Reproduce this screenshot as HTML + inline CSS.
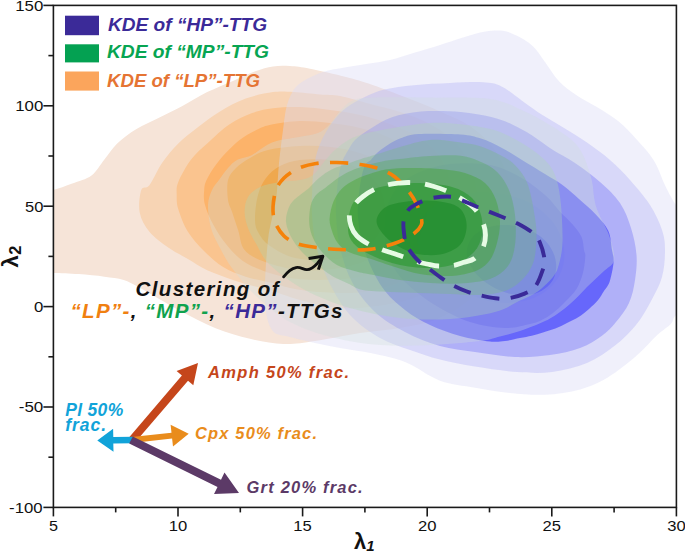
<!DOCTYPE html>
<html><head><meta charset="utf-8"><style>
html,body{margin:0;padding:0;background:#fff;width:685px;height:551px;overflow:hidden}
svg{display:block;font-family:"Liberation Sans",sans-serif}
</style></head><body>
<svg width="685" height="551" viewBox="0 0 685 551" font-family="Liberation Sans, sans-serif">
<defs><clipPath id="plotclip"><rect x="53.4" y="5.4" width="623.0" height="502.0"/></clipPath></defs>
<g clip-path="url(#plotclip)">
<g>
<path d="M40.0,190.0 C42.2,176.2 47.6,191.2 53.0,190.1 C58.4,189.0 65.9,186.0 72.3,183.6 C78.7,181.2 86.2,179.6 91.5,175.6 C96.8,171.6 100.1,164.9 104.4,159.6 C108.7,154.2 111.9,148.6 117.2,143.5 C122.5,138.4 129.5,133.3 136.5,129.0 C143.5,124.7 151.5,121.5 159.0,117.8 C166.5,114.1 173.5,110.9 181.5,106.6 C189.5,102.3 198.6,96.4 207.2,92.1 C215.8,87.8 224.9,84.4 232.9,80.9 C240.9,77.4 248.6,73.6 255.3,71.2 C262.0,68.8 267.2,67.3 273.0,66.4 C278.8,65.5 283.8,65.6 290.0,66.0 C296.2,66.4 300.7,66.9 310.0,68.7 C319.3,70.5 335.6,74.3 346.0,77.0 C356.4,79.7 361.3,81.0 372.6,84.9 C383.9,88.8 402.6,96.1 413.8,100.5 C425.0,104.9 430.6,107.2 440.0,111.5 C449.4,115.8 460.8,119.6 470.0,126.0 C479.2,132.4 488.3,140.2 495.0,150.0 C501.7,159.8 507.2,172.5 510.0,185.0 C512.8,197.5 513.7,211.7 512.0,225.0 C510.3,238.3 506.2,253.3 500.0,265.0 C493.8,276.7 485.0,286.2 475.0,295.0 C465.0,303.8 452.5,312.5 440.0,318.0 C427.5,323.5 413.3,325.5 400.0,328.0 C386.7,330.5 374.2,330.8 360.0,333.0 C345.8,335.2 327.7,339.2 315.0,341.0 C302.3,342.8 294.4,344.4 283.6,344.0 C272.8,343.6 261.3,341.4 250.0,338.8 C238.7,336.2 227.5,333.1 215.6,328.3 C203.7,323.5 191.1,316.6 178.8,310.0 C166.5,303.4 151.2,293.9 142.0,288.9 C132.8,283.9 130.0,281.9 123.7,279.9 C117.4,277.9 111.9,277.7 104.4,276.7 C96.9,275.7 87.3,274.7 78.7,274.1 C70.1,273.5 59.5,273.1 53.0,272.9 C46.5,272.7 42.2,286.8 40.0,273.0 C37.8,259.2 37.8,203.8 40.0,190.0Z" fill="#f6e4d8" fill-opacity="1.0"/>
<path d="M139.7,212.5 C138.3,205.5 139.7,194.5 141.3,190.0 C142.9,185.5 145.9,189.8 149.4,185.3 C152.9,180.8 157.4,169.8 162.2,162.8 C167.0,155.8 172.4,149.4 178.3,143.5 C184.2,137.6 190.6,132.8 197.5,127.4 C204.4,122.1 212.0,116.2 220.0,111.4 C228.0,106.6 236.9,101.7 245.7,98.5 C254.5,95.3 265.1,93.2 273.0,92.1 C280.9,91.0 285.6,91.6 293.4,92.0 C301.2,92.4 312.2,93.8 320.0,94.5 C327.8,95.2 331.7,94.4 340.0,96.0 C348.3,97.6 360.0,101.3 370.0,104.0 C380.0,106.7 390.0,108.7 400.0,112.0 C410.0,115.3 420.8,119.0 430.0,124.0 C439.2,129.0 448.0,134.3 455.0,142.0 C462.0,149.7 468.2,159.5 472.0,170.0 C475.8,180.5 478.0,193.3 478.0,205.0 C478.0,216.7 475.8,229.2 472.0,240.0 C468.2,250.8 462.8,261.2 455.0,270.0 C447.2,278.8 436.7,287.2 425.0,293.0 C413.3,298.8 399.2,302.5 385.0,305.0 C370.8,307.5 354.2,308.8 340.0,308.0 C325.8,307.2 311.7,303.0 300.0,300.0 C288.3,297.0 277.4,292.3 270.0,290.0 C262.6,287.7 261.5,288.1 255.3,286.4 C249.1,284.7 240.9,282.6 232.9,279.9 C224.9,277.2 214.7,273.8 207.2,270.3 C199.7,266.8 194.3,262.8 187.9,259.0 C181.5,255.2 175.0,252.3 168.6,247.8 C162.2,243.3 154.2,237.7 149.4,231.8 C144.6,225.9 141.0,219.5 139.7,212.5Z" fill="#f7d4b4" fill-opacity="1.0"/>
<path d="M178.3,182.0 C180.7,176.1 186.3,166.0 191.1,159.6 C195.9,153.2 200.8,149.4 207.2,143.5 C213.6,137.6 222.1,129.3 229.6,124.2 C237.1,119.1 244.9,115.7 252.1,113.0 C259.3,110.3 265.0,109.2 273.0,108.2 C281.0,107.2 290.5,106.7 300.0,107.0 C309.5,107.3 320.0,108.7 330.0,110.0 C340.0,111.3 350.0,112.7 360.0,115.0 C370.0,117.3 380.0,120.2 390.0,124.0 C400.0,127.8 411.3,132.0 420.0,138.0 C428.7,144.0 436.7,150.5 442.0,160.0 C447.3,169.5 451.0,183.3 452.0,195.0 C453.0,206.7 451.3,219.2 448.0,230.0 C444.7,240.8 439.2,251.7 432.0,260.0 C424.8,268.3 416.2,274.7 405.0,280.0 C393.8,285.3 379.2,290.0 365.0,292.0 C350.8,294.0 332.5,292.7 320.0,292.0 C307.5,291.3 297.8,289.5 290.0,288.0 C282.2,286.5 280.4,285.0 273.0,283.1 C265.6,281.2 254.0,279.4 245.7,276.7 C237.4,274.0 230.1,271.4 223.2,267.1 C216.2,262.8 209.9,256.9 204.0,251.0 C198.1,245.1 192.2,238.8 187.9,231.8 C183.6,224.9 180.2,215.4 178.3,209.3 C176.4,203.2 176.7,199.6 176.7,195.0 C176.7,190.4 175.9,187.9 178.3,182.0Z" fill="#fac48f" fill-opacity="1.0"/>
<path d="M204.2,190.0 C204.6,185.6 204.6,183.9 207.2,178.8 C209.8,173.7 214.7,166.0 220.0,159.6 C225.3,153.2 232.9,145.4 239.3,140.3 C245.7,135.2 252.9,131.7 258.5,129.0 C264.1,126.3 266.1,125.5 273.0,124.2 C279.9,122.9 290.5,121.2 300.0,121.0 C309.5,120.8 320.0,121.8 330.0,123.0 C340.0,124.2 350.0,125.5 360.0,128.0 C370.0,130.5 381.3,133.5 390.0,138.0 C398.7,142.5 406.2,148.0 412.0,155.0 C417.8,162.0 422.3,170.8 425.0,180.0 C427.7,189.2 429.2,200.0 428.0,210.0 C426.8,220.0 423.0,231.3 418.0,240.0 C413.0,248.7 406.8,256.0 398.0,262.0 C389.2,268.0 378.0,273.0 365.0,276.0 C352.0,279.0 332.5,279.7 320.0,280.0 C307.5,280.3 297.8,279.0 290.0,278.0 C282.2,277.0 277.7,275.4 273.0,274.1 C268.3,272.8 266.9,272.5 261.8,270.3 C256.7,268.1 248.4,265.0 242.5,260.7 C236.6,256.4 231.2,250.5 226.4,244.6 C221.6,238.7 217.2,231.9 213.6,225.3 C210.0,218.7 206.6,210.9 205.0,205.0 C203.4,199.1 203.8,194.4 204.2,190.0Z" fill="#fcb36a" fill-opacity="1.0"/>
<path d="M228.0,200.0 C227.3,194.7 226.7,185.3 228.0,180.0 C229.3,174.7 232.3,171.7 236.0,168.0 C239.7,164.3 244.7,161.0 250.0,158.0 C255.3,155.0 259.7,152.0 268.0,150.0 C276.3,148.0 289.7,146.5 300.0,146.0 C310.3,145.5 320.0,145.8 330.0,147.0 C340.0,148.2 350.8,149.8 360.0,153.0 C369.2,156.2 378.3,160.2 385.0,166.0 C391.7,171.8 397.0,179.8 400.0,188.0 C403.0,196.2 404.2,206.3 403.0,215.0 C401.8,223.7 398.2,232.8 393.0,240.0 C387.8,247.2 380.8,253.3 372.0,258.0 C363.2,262.7 352.0,266.0 340.0,268.0 C328.0,270.0 312.5,271.0 300.0,270.0 C287.5,269.0 274.2,265.3 265.0,262.0 C255.8,258.7 249.0,255.2 244.6,250.0 C240.2,244.8 240.4,237.2 238.3,230.8 C236.2,224.4 233.7,216.9 232.0,211.8 C230.3,206.7 228.7,205.3 228.0,200.0Z" fill="#ffa33c" fill-opacity="1.0"/>
<path d="M255.0,218.0 C255.0,211.8 256.2,201.7 258.0,195.0 C259.8,188.3 262.3,182.8 266.0,178.0 C269.7,173.2 274.3,169.0 280.0,166.0 C285.7,163.0 291.7,161.0 300.0,160.0 C308.3,159.0 320.3,158.7 330.0,160.0 C339.7,161.3 350.0,163.8 358.0,168.0 C366.0,172.2 373.5,178.0 378.0,185.0 C382.5,192.0 385.0,201.7 385.0,210.0 C385.0,218.3 382.2,228.0 378.0,235.0 C373.8,242.0 368.0,247.8 360.0,252.0 C352.0,256.2 340.8,259.0 330.0,260.0 C319.2,261.0 305.0,260.3 295.0,258.0 C285.0,255.7 276.2,250.3 270.0,246.0 C263.8,241.7 260.5,236.7 258.0,232.0 C255.5,227.3 255.0,224.2 255.0,218.0Z" fill="#ff8d07" fill-opacity="1.0"/>
</g>
<g>
<path d="M265.0,300.0 C264.3,285.0 266.2,256.7 268.0,240.0 C269.8,223.3 274.2,212.8 276.0,200.0 C277.8,187.2 277.8,174.7 279.0,163.0 C280.2,151.3 281.7,139.7 283.0,130.0 C284.3,120.3 285.0,112.0 287.0,105.0 C289.0,98.0 291.7,92.3 295.0,88.0 C298.3,83.7 302.1,81.8 307.0,79.0 C311.9,76.2 318.4,73.4 324.6,71.5 C330.9,69.6 337.1,68.8 344.5,67.5 C351.9,66.2 361.7,64.8 369.3,63.5 C376.9,62.2 382.4,61.8 390.0,60.0 C397.6,58.2 406.7,55.0 415.0,52.5 C423.3,50.0 432.0,47.5 440.0,45.0 C448.0,42.5 455.4,39.8 463.0,37.5 C470.6,35.2 478.8,32.6 485.5,31.5 C492.2,30.4 497.8,30.1 503.0,30.8 C508.2,31.5 512.0,33.2 517.0,35.8 C522.0,38.4 528.2,41.9 532.9,46.3 C537.6,50.7 540.6,56.2 545.0,62.0 C549.4,67.8 553.7,75.8 559.0,81.3 C564.3,86.8 570.1,90.9 576.6,95.3 C583.1,99.7 590.7,103.2 597.7,107.6 C604.7,112.0 612.3,116.3 618.7,121.6 C625.1,126.8 630.4,132.7 636.2,139.1 C642.0,145.5 648.8,152.4 653.7,160.2 C658.6,168.0 661.7,178.5 665.4,186.0 C669.1,193.5 671.1,197.7 676.0,205.0 C680.9,212.3 691.8,214.2 695.0,230.0 C698.2,245.8 698.2,285.8 695.0,300.0 C691.8,314.2 680.0,311.0 676.0,315.0 C672.0,319.0 673.9,320.6 670.8,324.0 C667.7,327.4 663.0,329.8 657.2,335.1 C651.4,340.5 644.4,349.1 636.2,356.1 C628.0,363.1 617.5,371.6 608.2,377.2 C598.9,382.8 590.7,386.5 580.2,389.4 C569.7,392.3 556.8,394.1 545.1,394.7 C533.4,395.3 521.7,394.2 510.0,393.0 C498.3,391.8 486.7,389.8 475.0,387.7 C463.3,385.6 451.7,385.0 440.0,380.7 C428.3,376.4 417.1,366.7 405.0,362.0 C392.9,357.3 378.2,354.9 367.6,352.6 C357.0,350.3 350.1,349.8 341.3,348.2 C332.5,346.6 323.6,344.9 315.0,343.0 C306.4,341.1 297.2,339.2 290.0,337.0 C282.8,334.8 276.2,336.2 272.0,330.0 C267.8,323.8 265.7,315.0 265.0,300.0Z" fill="#dadaf6" fill-opacity="0.4112507811868249"/>
<path d="M312.2,190.0 C312.4,182.8 312.6,178.1 313.4,171.7 C314.2,165.3 315.3,158.0 317.2,151.8 C319.1,145.6 321.7,139.9 324.6,134.5 C327.5,129.1 330.8,124.1 334.5,119.6 C338.2,115.0 341.9,110.9 346.9,107.2 C351.9,103.5 358.0,100.1 364.3,97.2 C370.6,94.3 376.4,91.6 384.6,89.6 C392.9,87.6 402.9,86.3 413.8,85.2 C424.7,84.1 438.5,83.5 450.0,83.0 C461.5,82.5 474.4,81.7 483.0,82.3 C491.6,82.9 495.0,83.3 501.5,86.4 C508.0,89.5 515.2,95.9 522.0,100.7 C528.8,105.5 535.6,110.6 542.4,115.0 C549.2,119.4 555.4,122.6 562.8,127.2 C570.2,131.8 579.1,137.1 587.0,142.6 C594.9,148.1 602.8,153.8 610.0,160.0 C617.2,166.2 623.3,172.5 630.0,180.0 C636.7,187.5 644.7,196.7 650.0,205.0 C655.3,213.3 659.5,222.5 662.0,230.0 C664.5,237.5 665.0,242.2 665.0,250.0 C665.0,257.8 664.5,268.2 662.0,277.0 C659.5,285.8 654.3,295.0 650.0,303.0 C645.7,311.0 641.8,317.9 636.0,325.0 C630.2,332.1 623.2,339.3 615.0,345.6 C606.8,351.9 597.5,358.6 587.0,363.0 C576.5,367.4 563.7,370.5 552.0,372.0 C540.3,373.5 529.8,372.9 517.0,372.0 C504.2,371.1 487.8,368.7 475.0,366.6 C462.2,364.5 450.8,362.4 440.0,359.6 C429.2,356.8 420.0,353.6 410.0,350.0 C400.0,346.4 390.0,343.8 380.0,338.0 C370.0,332.2 358.7,324.7 350.0,315.0 C341.3,305.3 333.7,291.7 328.0,280.0 C322.3,268.3 318.7,255.8 316.0,245.0 C313.3,234.2 312.6,224.2 312.0,215.0 C311.4,205.8 312.0,197.2 312.2,190.0Z" fill="#b6b7f5" fill-opacity="0.4112507811868249"/>
<path d="M337.0,190.0 C337.6,182.8 338.5,176.7 339.5,171.7 C340.5,166.7 341.4,163.5 342.8,160.0 C344.2,156.5 346.0,153.9 348.0,150.6 C350.0,147.3 351.3,143.6 355.0,140.0 C358.7,136.4 363.9,132.8 370.0,129.0 C376.1,125.2 383.4,120.2 391.9,117.3 C400.4,114.4 409.5,112.4 421.0,111.5 C432.5,110.6 449.0,111.0 460.7,111.9 C472.4,112.8 482.8,115.0 491.3,117.0 C499.8,119.0 504.9,121.1 511.7,124.2 C518.5,127.3 525.4,131.2 532.2,135.4 C539.0,139.7 545.5,145.1 552.6,149.7 C559.7,154.3 567.1,157.6 575.0,163.0 C582.9,168.4 592.5,175.3 600.0,182.0 C607.5,188.7 614.8,195.3 620.0,203.0 C625.2,210.7 628.2,219.3 631.0,228.0 C633.8,236.7 635.8,246.3 636.5,255.0 C637.2,263.7 636.2,272.0 635.0,280.0 C633.8,288.0 632.2,296.0 629.0,303.0 C625.8,310.0 620.6,316.5 616.0,322.0 C611.4,327.5 607.6,331.7 601.6,336.0 C595.6,340.3 588.6,344.8 580.0,348.0 C571.4,351.2 560.8,353.5 550.0,355.0 C539.2,356.5 527.5,357.5 515.0,357.0 C502.5,356.5 487.5,353.8 475.0,352.0 C462.5,350.2 451.7,349.3 440.0,346.0 C428.3,342.7 415.8,337.7 405.0,332.0 C394.2,326.3 383.8,320.3 375.0,312.0 C366.2,303.7 357.8,292.7 352.0,282.0 C346.2,271.3 342.7,259.2 340.0,248.0 C337.3,236.8 336.5,224.7 336.0,215.0 C335.5,205.3 336.4,197.2 337.0,190.0Z" fill="#7776f8" fill-opacity="0.4112507811868249"/>
<path d="M359.4,190.0 C360.4,181.4 362.4,171.7 364.3,166.7 C366.2,161.7 368.6,162.4 370.8,160.0 C373.1,157.6 374.6,155.0 377.8,152.3 C381.0,149.6 386.2,145.9 390.0,143.6 C393.8,141.3 395.9,139.9 400.6,138.3 C405.3,136.7 408.1,134.7 418.1,134.0 C428.1,133.3 450.2,133.7 460.7,134.4 C471.2,135.2 474.2,136.3 481.0,138.5 C487.8,140.7 494.7,144.1 501.5,147.7 C508.3,151.3 514.8,155.6 522.0,160.0 C529.2,164.4 538.2,169.8 545.0,174.0 C551.8,178.2 556.8,180.8 562.5,185.0 C568.2,189.2 573.5,194.1 579.0,199.0 C584.5,203.9 590.7,209.0 595.6,214.3 C600.5,219.6 605.6,224.9 608.3,230.8 C611.0,236.8 611.1,244.8 612.0,250.0 C612.9,255.2 614.0,256.8 613.6,262.0 C613.2,267.2 611.3,276.6 609.7,281.4 C608.1,286.2 606.0,287.9 604.0,291.0 C602.0,294.1 600.4,297.3 597.9,300.3 C595.4,303.3 592.1,306.2 589.0,309.0 C585.9,311.8 582.7,314.5 579.0,316.8 C575.3,319.1 570.9,321.0 567.0,323.0 C563.1,325.0 559.4,327.0 555.4,328.6 C551.4,330.2 546.9,331.3 543.0,332.5 C539.1,333.7 535.6,334.8 531.8,335.7 C528.0,336.6 524.5,337.1 520.0,338.0 C515.5,338.9 510.0,340.4 505.0,341.0 C500.0,341.6 497.5,342.3 490.0,341.5 C482.5,340.7 470.0,338.8 460.0,336.0 C450.0,333.2 439.2,329.3 430.0,325.0 C420.8,320.7 413.0,316.3 405.0,310.0 C397.0,303.7 388.7,296.7 382.0,287.0 C375.3,277.3 369.0,263.5 365.0,252.0 C361.0,240.5 358.9,228.3 358.0,218.0 C357.1,207.7 358.3,198.6 359.4,190.0Z" fill="#0000ff" fill-opacity="0.4112507811868249"/>
<path d="M385.0,235.0 C384.7,225.8 385.5,213.3 388.0,205.0 C390.5,196.7 394.7,190.5 400.0,185.0 C405.3,179.5 411.7,175.5 420.0,172.0 C428.3,168.5 438.3,165.2 450.0,164.0 C461.7,162.8 478.3,162.8 490.0,165.0 C501.7,167.2 510.8,172.0 520.0,177.0 C529.2,182.0 538.3,189.2 545.0,195.0 C551.7,200.8 555.4,206.8 560.0,211.7 C564.6,216.6 569.1,220.2 572.7,224.4 C576.3,228.6 579.7,232.7 581.6,237.0 C583.5,241.3 583.4,246.8 584.0,250.0 C584.6,253.2 585.5,252.5 585.3,256.3 C585.1,260.1 584.5,267.2 583.0,272.7 C581.5,278.1 579.5,284.1 576.5,289.0 C573.5,293.9 568.9,298.0 565.0,302.0 C561.1,306.0 556.9,310.0 553.0,313.0 C549.1,316.0 545.5,318.2 541.7,320.0 C537.9,321.8 536.1,322.7 530.0,324.0 C523.9,325.3 515.0,328.3 505.0,328.0 C495.0,327.7 481.7,325.8 470.0,322.0 C458.3,318.2 445.8,311.7 435.0,305.0 C424.2,298.3 412.5,289.5 405.0,282.0 C397.5,274.5 393.3,267.8 390.0,260.0 C386.7,252.2 385.3,244.2 385.0,235.0Z" fill="#3a36f4" fill-opacity="0.4112507811868249"/>
<path d="M562.8,266.8 C561.9,270.2 560.6,273.3 559.0,276.3 C557.3,279.3 555.2,282.2 552.9,284.8 C550.5,287.4 547.7,289.8 544.7,291.9 C541.7,294.0 538.4,295.9 534.9,297.4 C531.4,298.9 527.6,300.2 523.7,301.1 C519.8,302.0 515.7,302.6 511.6,302.8 C507.5,303.1 503.2,303.0 499.0,302.5 C494.9,302.1 491.3,301.5 486.5,300.2 C481.8,299.0 475.8,297.0 470.8,295.0 C465.7,292.9 460.7,290.6 456.1,288.0 C451.5,285.4 447.1,282.5 443.2,279.5 C439.2,276.5 435.6,273.3 432.4,270.0 C429.3,266.6 426.5,263.1 424.3,259.6 C422.0,256.1 420.2,252.5 419.0,248.9 C417.8,245.3 417.0,241.7 416.8,238.2 C416.7,234.7 417.0,231.4 417.9,228.0 C418.8,224.6 420.3,221.2 422.3,218.1 C424.2,214.9 426.7,212.0 429.6,209.3 C432.5,206.7 435.9,204.3 439.6,202.2 C443.4,200.1 447.6,198.3 452.0,196.9 C456.4,195.4 461.3,194.3 466.2,193.6 C471.2,192.9 476.4,192.5 481.7,192.5 C487.0,192.5 492.5,192.9 497.9,193.6 C503.4,194.3 509.5,195.6 514.2,196.9 C518.9,198.1 522.4,199.4 526.2,201.2 C530.0,202.9 533.8,205.0 537.2,207.4 C540.6,209.7 543.8,212.3 546.7,215.2 C549.6,218.0 552.2,221.1 554.5,224.3 C556.7,227.5 558.6,231.0 560.1,234.5 C561.6,238.0 562.7,241.6 563.5,245.2 C564.2,248.8 564.5,252.5 564.4,256.1 C564.2,259.7 563.7,263.5 562.8,266.8Z" fill="#4748ff" fill-opacity="0.4112507811868249"/>
<path d="M554.5,276.4 C553.7,278.4 552.8,280.2 551.6,282.0 C550.4,283.7 548.9,285.3 547.3,286.8 C545.6,288.2 543.8,289.5 541.7,290.7 C539.7,291.8 537.5,292.7 535.2,293.4 C532.9,294.1 530.4,294.7 527.8,295.0 C525.3,295.3 522.6,295.4 520.0,295.3 C517.3,295.2 514.6,294.8 512.0,294.3 C509.3,293.8 506.9,293.1 504.1,292.1 C501.2,291.0 498.0,289.6 495.1,288.2 C492.2,286.7 489.5,285.0 486.9,283.2 C484.4,281.5 481.9,279.5 479.8,277.5 C477.7,275.5 475.7,273.3 474.0,271.2 C472.4,269.0 471.0,266.7 469.9,264.5 C468.7,262.2 467.9,259.9 467.4,257.7 C466.9,255.5 466.7,253.2 466.8,251.1 C466.9,249.0 467.3,246.9 468.0,244.9 C468.8,242.9 469.9,240.7 471.3,238.8 C472.6,236.9 474.3,235.2 476.2,233.6 C478.1,232.1 480.2,230.7 482.6,229.5 C484.9,228.3 487.5,227.4 490.2,226.7 C493.0,225.9 495.9,225.4 498.9,225.2 C501.8,224.9 505.0,224.9 508.1,225.1 C511.2,225.3 514.4,225.7 517.6,226.4 C520.7,227.1 524.2,228.1 527.0,229.1 C529.8,230.1 532.1,231.2 534.4,232.5 C536.8,233.9 539.1,235.4 541.2,237.1 C543.2,238.8 545.2,240.7 546.9,242.6 C548.6,244.6 550.1,246.7 551.4,248.9 C552.6,251.1 553.7,253.4 554.5,255.7 C555.2,258.0 555.8,260.4 556.0,262.7 C556.3,265.0 556.3,267.4 556.0,269.7 C555.8,272.0 555.2,274.3 554.5,276.4Z" fill="#0000ff" fill-opacity="0.4112507811868249"/>
</g>
<g>
<path d="M208.0,205.0 C208.2,198.7 210.2,194.2 212.0,190.0 C213.8,185.8 216.3,183.7 219.0,180.0 C221.7,176.3 225.0,171.3 228.0,168.0 C231.0,164.7 233.0,162.2 237.0,160.0 C241.0,157.8 246.2,157.9 252.0,155.0 C257.8,152.1 264.2,145.5 272.0,142.5 C279.8,139.5 291.3,138.6 299.0,137.0 C306.7,135.4 312.8,135.2 318.0,133.0 C323.2,130.8 326.3,127.7 330.0,124.0 C333.7,120.3 336.3,114.8 340.0,111.0 C343.7,107.2 346.7,103.2 352.0,101.0 C357.3,98.8 359.0,98.2 372.0,97.6 C385.0,97.0 410.3,97.4 430.0,97.6 C449.7,97.8 474.6,96.8 490.0,99.0 C505.4,101.2 512.5,106.0 522.7,110.5 C532.9,115.0 542.6,120.6 551.0,125.7 C559.4,130.8 567.4,135.9 572.8,141.0 C578.2,146.1 580.5,149.7 583.6,156.2 C586.8,162.7 589.9,172.9 591.7,180.0 C593.5,187.1 593.2,193.7 594.3,199.0 C595.3,204.3 595.7,206.0 598.0,211.7 C600.3,217.4 605.8,226.9 608.3,233.3 C610.8,239.7 612.4,245.2 613.3,250.0 C614.2,254.8 615.1,258.5 613.6,262.0 C612.1,265.5 607.0,268.2 604.0,271.0 C601.0,273.8 598.3,276.3 595.5,279.0 C592.7,281.7 589.8,284.2 587.0,287.0 C584.2,289.8 581.8,292.7 579.0,295.5 C576.2,298.3 573.2,301.2 570.0,304.0 C566.8,306.8 563.3,309.6 560.0,312.0 C556.7,314.4 553.5,316.5 550.0,318.5 C546.5,320.5 544.0,321.7 539.0,323.8 C534.0,325.9 526.5,328.9 520.0,331.0 C513.5,333.1 506.7,334.8 500.0,336.5 C493.3,338.2 491.7,339.6 480.0,341.0 C468.3,342.4 446.7,344.3 430.0,345.0 C413.3,345.7 395.8,346.2 380.0,345.0 C364.2,343.8 350.0,341.8 335.0,338.0 C320.0,334.2 303.3,329.2 290.0,322.0 C276.7,314.8 264.7,304.0 255.0,295.0 C245.3,286.0 237.8,275.8 232.0,268.0 C226.2,260.2 223.5,254.7 220.0,248.0 C216.5,241.3 213.0,235.2 211.0,228.0 C209.0,220.8 207.8,211.3 208.0,205.0Z" fill="#d1ddda" fill-opacity="0.3365904272973477"/>
<path d="M244.6,212.0 C244.6,206.8 245.4,201.2 248.0,197.0 C250.6,192.8 254.7,189.5 260.0,187.0 C265.3,184.5 273.3,183.2 280.0,182.0 C286.7,180.8 294.5,181.2 300.0,180.0 C305.5,178.8 309.0,178.0 313.0,175.0 C317.0,172.0 320.2,166.3 324.0,162.0 C327.8,157.7 330.7,153.2 336.0,149.0 C341.3,144.8 347.0,139.9 356.0,136.5 C365.0,133.1 377.7,130.8 390.0,128.5 C402.3,126.2 418.2,123.7 430.0,123.0 C441.8,122.3 450.5,123.2 460.7,124.2 C470.9,125.2 482.8,127.1 491.3,129.3 C499.8,131.5 504.9,134.0 511.7,137.4 C518.5,140.8 526.1,145.3 532.2,149.7 C538.3,154.1 544.4,158.9 548.5,164.0 C552.6,169.1 554.6,173.2 556.7,180.0 C558.8,186.8 560.0,194.7 561.0,205.0 C562.0,215.3 562.8,232.2 562.5,242.0 C562.2,251.8 560.6,258.2 559.0,264.0 C557.4,269.8 556.7,272.3 553.0,277.0 C549.3,281.7 542.5,288.1 537.0,292.0 C531.5,295.9 527.0,297.3 520.0,300.6 C513.0,303.9 506.7,308.9 495.0,312.0 C483.3,315.1 465.8,318.0 450.0,319.0 C434.2,320.0 416.7,319.8 400.0,318.0 C383.3,316.2 365.8,312.7 350.0,308.0 C334.2,303.3 318.3,297.2 305.0,290.0 C291.7,282.8 278.2,272.8 270.0,265.0 C261.8,257.2 259.7,249.7 256.0,243.5 C252.3,237.3 249.9,233.2 248.0,228.0 C246.1,222.8 244.6,217.2 244.6,212.0Z" fill="#afd8b6" fill-opacity="0.3365904272973477"/>
<path d="M286.0,222.0 C285.5,216.2 287.7,209.5 290.0,205.0 C292.3,200.5 296.9,197.8 300.0,195.0 C303.1,192.2 305.6,191.0 308.8,188.2 C312.0,185.4 315.1,181.2 319.0,178.0 C322.9,174.8 327.2,171.6 332.1,169.2 C337.0,166.8 343.3,165.1 348.2,163.4 C353.1,161.7 356.7,160.5 361.3,159.0 C365.9,157.5 369.4,156.6 375.9,154.6 C382.3,152.6 391.0,149.4 400.0,147.0 C409.0,144.6 419.9,140.7 430.0,140.0 C440.1,139.3 452.2,141.5 460.7,142.6 C469.2,143.7 474.2,144.4 481.0,146.6 C487.8,148.8 495.7,152.6 501.5,155.8 C507.3,159.0 511.4,161.1 515.8,166.0 C520.2,170.9 524.8,176.0 528.0,185.0 C531.2,194.0 533.9,210.5 535.3,220.0 C536.7,229.5 536.7,234.5 536.3,241.8 C535.9,249.1 535.4,257.2 533.0,263.6 C530.6,270.0 526.7,275.4 522.0,280.0 C517.3,284.6 512.0,288.5 505.0,291.0 C498.0,293.5 489.2,294.5 480.0,295.0 C470.8,295.5 460.0,294.3 450.0,294.0 C440.0,293.7 430.0,293.3 420.0,293.0 C410.0,292.7 399.6,292.5 390.0,292.0 C380.4,291.5 369.5,291.4 362.6,290.0 C355.7,288.6 353.4,285.9 348.5,283.7 C343.6,281.5 337.9,279.2 333.4,276.7 C328.9,274.2 326.4,272.1 321.7,268.5 C317.0,264.9 309.8,259.8 305.0,255.0 C300.2,250.2 296.0,245.5 292.8,240.0 C289.6,234.5 286.5,227.8 286.0,222.0Z" fill="#77ba7f" fill-opacity="0.3365904272973477"/>
<path d="M309.3,223.5 C308.9,218.1 309.5,210.4 310.6,205.7 C311.7,200.9 313.6,197.9 316.0,195.0 C318.4,192.1 321.1,191.0 324.8,188.2 C328.5,185.4 333.6,180.9 338.0,178.0 C342.4,175.1 346.5,172.8 351.1,170.7 C355.7,168.6 360.4,167.1 365.7,165.5 C371.0,163.9 377.5,162.3 383.2,161.2 C388.9,160.1 392.2,159.9 400.0,159.0 C407.8,158.1 419.9,156.5 430.0,156.0 C440.1,155.5 452.2,154.8 460.7,155.8 C469.2,156.8 474.9,159.3 481.0,162.0 C487.1,164.7 492.7,167.5 497.4,172.2 C502.1,176.9 506.1,182.9 509.0,190.0 C511.9,197.1 514.0,205.8 515.0,215.0 C516.0,224.2 516.2,236.5 515.0,245.0 C513.8,253.5 512.2,260.3 508.0,266.0 C503.8,271.7 498.0,276.1 490.0,279.0 C482.0,281.9 470.0,282.8 460.0,283.5 C450.0,284.2 440.0,283.6 430.0,283.0 C420.0,282.4 409.9,281.4 400.0,280.0 C390.1,278.6 378.3,275.9 370.7,274.4 C363.1,272.9 360.0,272.5 354.4,270.9 C348.8,269.3 342.3,268.1 336.9,265.0 C331.5,261.9 326.0,256.5 322.0,252.0 C318.0,247.5 315.1,242.8 313.0,238.0 C310.9,233.2 309.7,228.9 309.3,223.5Z" fill="#4fad51" fill-opacity="0.3365904272973477"/>
<path d="M329.6,218.4 C329.9,213.5 331.5,206.3 333.6,201.3 C335.7,196.3 338.7,191.8 342.3,188.2 C345.9,184.5 350.4,182.0 355.5,179.4 C360.6,176.8 367.6,174.5 373.0,172.8 C378.4,171.1 381.4,170.0 387.6,169.2 C393.8,168.4 401.3,168.0 410.0,168.0 C418.7,168.0 430.8,168.2 440.0,169.0 C449.2,169.8 457.5,170.7 465.0,173.0 C472.5,175.3 479.8,178.5 485.0,183.0 C490.2,187.5 493.5,193.5 496.0,200.0 C498.5,206.5 499.8,214.8 500.0,222.0 C500.2,229.2 498.7,236.7 497.0,243.0 C495.3,249.3 493.2,255.5 490.0,260.0 C486.8,264.5 483.0,267.5 478.0,270.0 C473.0,272.5 465.5,274.0 460.0,275.0 C454.5,276.0 451.7,276.2 445.0,276.0 C438.3,275.8 428.3,275.5 420.0,274.0 C411.7,272.5 403.2,269.5 395.0,267.0 C386.8,264.5 377.3,261.0 371.0,259.0 C364.7,257.0 361.3,256.5 357.0,255.0 C352.7,253.5 348.3,252.2 345.0,250.0 C341.7,247.8 339.2,245.2 337.0,242.0 C334.8,238.8 333.2,234.9 332.0,231.0 C330.8,227.1 329.3,223.3 329.6,218.4Z" fill="#36a315" fill-opacity="0.3365904272973477"/>
<path d="M348.0,225.0 C348.2,219.2 349.5,210.2 352.0,205.0 C354.5,199.8 357.5,197.2 363.0,194.0 C368.5,190.8 375.5,187.8 385.0,186.0 C394.5,184.2 408.8,182.8 420.0,183.0 C431.2,183.2 443.3,184.5 452.0,187.0 C460.7,189.5 467.2,193.3 472.0,198.0 C476.8,202.7 479.3,208.8 481.0,215.0 C482.7,221.2 483.2,228.8 482.0,235.0 C480.8,241.2 478.5,247.2 474.0,252.0 C469.5,256.8 463.2,261.3 455.0,264.0 C446.8,266.7 435.5,268.2 425.0,268.0 C414.5,267.8 402.0,265.7 392.0,263.0 C382.0,260.3 371.8,255.8 365.0,252.0 C358.2,248.2 353.8,244.5 351.0,240.0 C348.2,235.5 347.8,230.8 348.0,225.0Z" fill="#008c00" fill-opacity="0.3365904272973477"/>
<path d="M377.0,218.0 C378.3,214.0 381.8,208.8 387.6,206.0 C393.4,203.2 403.3,201.8 412.0,201.0 C420.7,200.2 432.3,200.5 440.0,201.5 C447.7,202.5 453.8,204.2 458.0,207.0 C462.2,209.8 464.2,213.8 465.5,218.0 C466.8,222.2 467.1,227.3 466.0,232.0 C464.9,236.7 463.3,242.2 459.0,246.0 C454.7,249.8 447.3,253.3 440.0,254.5 C432.7,255.7 422.8,255.3 415.0,253.4 C407.2,251.5 398.8,246.9 393.0,243.0 C387.2,239.1 382.7,234.2 380.0,230.0 C377.3,225.8 375.7,222.0 377.0,218.0Z" fill="#017b0f" fill-opacity="0.3365904272973477"/>
</g>
</g>
<path d="M273.0,207.0 C273.2,201.7 274.2,194.8 276.0,190.0 C277.8,185.2 280.3,181.6 284.0,178.0 C287.7,174.4 292.7,170.9 298.0,168.5 C303.3,166.1 309.5,164.5 316.0,163.5 C322.5,162.5 329.7,162.3 337.0,162.5 C344.3,162.7 352.8,163.4 360.0,164.5 C367.2,165.6 374.2,166.9 380.0,169.0 C385.8,171.1 390.1,173.1 395.0,177.0 C399.9,180.9 405.8,187.6 409.5,192.3 C413.2,197.0 415.0,200.7 417.0,205.0 C419.0,209.3 420.6,214.7 421.3,218.0 C422.0,221.3 422.5,222.4 421.3,225.0 C420.1,227.6 418.1,230.6 414.0,233.5 C409.9,236.4 404.4,239.8 397.0,242.5 C389.6,245.2 379.2,248.2 369.7,249.4 C360.2,250.6 348.8,249.8 340.0,249.5 C331.2,249.2 324.0,248.4 317.0,247.5 C310.0,246.6 303.5,245.9 298.0,244.0 C292.5,242.1 287.8,239.7 284.0,236.0 C280.2,232.3 276.8,226.8 275.0,222.0 C273.2,217.2 272.8,212.3 273.0,207.0Z" fill="none" stroke="#F5820A" stroke-width="3.6" stroke-dasharray="18.2 11.33" stroke-dashoffset="7"/>
<path d="M357.0,236.0 C354.1,233.0 352.2,229.7 351.0,226.0 C349.8,222.3 348.9,217.6 349.5,214.0 C350.1,210.4 352.4,207.3 354.7,204.4 C356.9,201.5 359.8,198.9 363.0,196.5 C366.2,194.1 370.0,191.6 373.9,189.7 C377.8,187.8 382.4,186.3 386.4,185.2 C390.4,184.1 394.2,183.6 398.0,183.2 C401.8,182.8 404.9,182.4 409.0,182.5 C413.1,182.6 418.4,182.9 422.6,183.6 C426.8,184.3 430.2,185.4 434.0,186.5 C437.8,187.6 441.2,188.7 445.2,190.4 C449.1,192.1 454.1,194.5 457.7,196.5 C461.3,198.5 464.0,200.2 467.0,202.5 C470.0,204.8 473.1,206.7 475.8,210.1 C478.5,213.5 481.4,218.5 483.0,222.7 C484.6,226.8 485.5,230.9 485.5,235.0 C485.5,239.1 484.8,243.6 483.0,247.5 C481.2,251.4 477.8,256.0 474.5,258.5 C471.2,261.0 466.6,261.3 463.0,262.5 C459.4,263.7 457.2,264.9 453.1,265.5 C449.0,266.1 442.8,266.2 438.4,266.0 C434.0,265.8 430.6,264.7 427.0,264.0 C423.4,263.3 421.0,262.9 416.9,261.7 C412.8,260.4 406.3,257.9 402.2,256.5 C398.1,255.1 395.4,254.1 392.0,253.0 C388.6,251.9 385.8,251.2 381.9,249.7 C377.9,248.2 372.4,246.3 368.3,244.0 C364.2,241.7 359.9,239.0 357.0,236.0Z" fill="none" stroke="#E6FBE4" stroke-width="4.8" stroke-dasharray="22.4 14.7" stroke-dashoffset="0"/>
<path d="M407.8,210.7 C409.6,207.9 411.6,207.1 414.0,205.5 C416.4,203.9 418.6,202.7 421.9,201.4 C425.1,200.1 428.6,198.6 433.5,197.8 C438.4,197.0 446.3,196.3 451.0,196.7 C455.7,197.1 457.1,198.4 461.6,200.2 C466.1,201.9 473.2,205.2 477.9,207.2 C482.6,209.1 484.7,209.9 489.6,211.9 C494.5,213.9 502.4,217.0 507.1,218.9 C511.8,220.8 513.3,221.2 517.6,223.5 C521.9,225.8 529.1,229.8 532.8,232.9 C536.5,236.0 537.8,237.7 539.8,242.2 C541.8,246.7 544.1,254.8 544.5,259.7 C544.9,264.6 543.8,266.9 542.2,271.4 C540.7,275.9 538.1,282.9 535.2,286.6 C532.3,290.3 529.1,291.7 524.6,293.6 C520.1,295.6 513.2,297.5 508.3,298.3 C503.4,299.1 500.5,298.9 495.4,298.3 C490.3,297.7 482.8,296.0 477.9,294.8 C473.0,293.6 470.7,293.1 466.2,291.3 C461.7,289.6 455.4,286.6 451.1,284.3 C446.8,282.0 444.6,280.2 440.5,277.3 C436.4,274.4 430.4,269.7 426.5,266.8 C422.6,263.9 420.5,263.2 417.2,259.7 C413.9,256.2 408.8,249.8 406.7,245.7 C404.6,241.6 404.8,239.1 404.3,235.2 C403.8,231.2 402.9,226.1 403.5,222.0 C404.1,217.9 406.1,213.4 407.8,210.7Z" fill="none" stroke="#3A2A98" stroke-width="3.9" stroke-dasharray="17.5 11.79" stroke-dashoffset="0"/>
<rect x="53.4" y="5.4" width="623.0" height="502.0" fill="none" stroke="#1a1a1a" stroke-width="1.6"/>
<line x1="53.4" y1="507.4" x2="53.4" y2="516.4" stroke="#1a1a1a" stroke-width="1.6"/>
<text x="53.4" y="531" font-size="14.8" text-anchor="middle" fill="#111" textLength="9.0" lengthAdjust="spacingAndGlyphs">5</text>
<line x1="178.0" y1="507.4" x2="178.0" y2="516.4" stroke="#1a1a1a" stroke-width="1.6"/>
<text x="178.0" y="531" font-size="14.8" text-anchor="middle" fill="#111" textLength="18.5" lengthAdjust="spacingAndGlyphs">10</text>
<line x1="302.6" y1="507.4" x2="302.6" y2="516.4" stroke="#1a1a1a" stroke-width="1.6"/>
<text x="302.6" y="531" font-size="14.8" text-anchor="middle" fill="#111" textLength="18.5" lengthAdjust="spacingAndGlyphs">15</text>
<line x1="427.2" y1="507.4" x2="427.2" y2="516.4" stroke="#1a1a1a" stroke-width="1.6"/>
<text x="427.2" y="531" font-size="14.8" text-anchor="middle" fill="#111" textLength="18.5" lengthAdjust="spacingAndGlyphs">20</text>
<line x1="551.8" y1="507.4" x2="551.8" y2="516.4" stroke="#1a1a1a" stroke-width="1.6"/>
<text x="551.8" y="531" font-size="14.8" text-anchor="middle" fill="#111" textLength="18.5" lengthAdjust="spacingAndGlyphs">25</text>
<line x1="676.4" y1="507.4" x2="676.4" y2="516.4" stroke="#1a1a1a" stroke-width="1.6"/>
<text x="676.4" y="531" font-size="14.8" text-anchor="middle" fill="#111" textLength="18.5" lengthAdjust="spacingAndGlyphs">30</text>
<line x1="115.7" y1="507.4" x2="115.7" y2="512.4" stroke="#1a1a1a" stroke-width="1.6"/>
<line x1="240.3" y1="507.4" x2="240.3" y2="512.4" stroke="#1a1a1a" stroke-width="1.6"/>
<line x1="364.9" y1="507.4" x2="364.9" y2="512.4" stroke="#1a1a1a" stroke-width="1.6"/>
<line x1="489.5" y1="507.4" x2="489.5" y2="512.4" stroke="#1a1a1a" stroke-width="1.6"/>
<line x1="614.1" y1="507.4" x2="614.1" y2="512.4" stroke="#1a1a1a" stroke-width="1.6"/>
<line x1="43.4" y1="5.4" x2="53.4" y2="5.4" stroke="#1a1a1a" stroke-width="1.6"/>
<text x="43.3" y="10.8" font-size="14.8" text-anchor="end" fill="#111" textLength="28.0" lengthAdjust="spacingAndGlyphs">150</text>
<line x1="43.4" y1="105.8" x2="53.4" y2="105.8" stroke="#1a1a1a" stroke-width="1.6"/>
<text x="43.3" y="111.2" font-size="14.8" text-anchor="end" fill="#111" textLength="28.0" lengthAdjust="spacingAndGlyphs">100</text>
<line x1="43.4" y1="206.2" x2="53.4" y2="206.2" stroke="#1a1a1a" stroke-width="1.6"/>
<text x="43.3" y="211.6" font-size="14.8" text-anchor="end" fill="#111" textLength="18.3" lengthAdjust="spacingAndGlyphs">50</text>
<line x1="43.4" y1="306.6" x2="53.4" y2="306.6" stroke="#1a1a1a" stroke-width="1.6"/>
<text x="43.3" y="312.0" font-size="14.8" text-anchor="end" fill="#111" textLength="9.3" lengthAdjust="spacingAndGlyphs">0</text>
<line x1="43.4" y1="407.0" x2="53.4" y2="407.0" stroke="#1a1a1a" stroke-width="1.6"/>
<text x="43.3" y="412.4" font-size="14.8" text-anchor="end" fill="#111" textLength="24.5" lengthAdjust="spacingAndGlyphs">-50</text>
<line x1="43.4" y1="507.4" x2="53.4" y2="507.4" stroke="#1a1a1a" stroke-width="1.6"/>
<text x="42.6" y="512.8" font-size="14.8" text-anchor="end" fill="#111" textLength="33.5" lengthAdjust="spacingAndGlyphs">-100</text>
<line x1="48.4" y1="55.6" x2="53.4" y2="55.6" stroke="#1a1a1a" stroke-width="1.6"/>
<line x1="48.4" y1="156.0" x2="53.4" y2="156.0" stroke="#1a1a1a" stroke-width="1.6"/>
<line x1="48.4" y1="256.4" x2="53.4" y2="256.4" stroke="#1a1a1a" stroke-width="1.6"/>
<line x1="48.4" y1="356.8" x2="53.4" y2="356.8" stroke="#1a1a1a" stroke-width="1.6"/>
<line x1="48.4" y1="457.2" x2="53.4" y2="457.2" stroke="#1a1a1a" stroke-width="1.6"/>
<text x="354" y="549" font-size="22" font-weight="bold" fill="#111">&#955;<tspan font-size="15" font-style="italic" dx="0" dy="2">1</tspan></text>
<text transform="translate(18.2,267.5) rotate(-90)" x="0" y="0" font-size="22" font-weight="bold" fill="#111">&#955;<tspan font-size="16.5" dx="0.5" dy="3">2</tspan></text>
<rect x="65" y="15.7" width="34" height="19.5" fill="#3B2A98"/>
<rect x="65" y="44.3" width="34" height="18.1" fill="#04A152"/>
<rect x="65" y="71.5" width="34" height="19.1" fill="#FBA55C"/>
<text x="108" y="30.5" font-size="17.5" font-weight="bold" font-style="italic" fill="#3B2A98" textLength="159" lengthAdjust="spacingAndGlyphs">KDE of &#8220;HP&#8221;-TTG</text>
<text x="107" y="58.3" font-size="17.5" font-weight="bold" font-style="italic" fill="#07A552" textLength="162" lengthAdjust="spacingAndGlyphs">KDE of &#8220;MP&#8221;-TTG</text>
<text x="107" y="86.5" font-size="17.5" font-weight="bold" font-style="italic" fill="#E57433" textLength="153" lengthAdjust="spacingAndGlyphs">KDE of &#8220;LP&#8221;-TTG</text>
<text x="135.5" y="295.7" font-size="20.5" font-weight="bold" font-style="italic" fill="#111" textLength="143" lengthAdjust="spacing">Clustering of</text>
<text x="70.5" y="318.3" font-size="20.5" font-weight="bold" font-style="italic" textLength="272" lengthAdjust="spacing"><tspan fill="#F08010">&#8220;LP&#8221;-</tspan><tspan fill="#111">, </tspan><tspan fill="#0FA24E">&#8220;MP&#8221;-</tspan><tspan fill="#111">, </tspan><tspan fill="#3B2A98">&#8220;HP&#8221;</tspan><tspan fill="#111">-TTGs</tspan></text>
<path d="M283.6,276.8 C287,272.5 291.5,268.5 296,267.6 C300,266.8 303,269.2 306.5,269.6 C310.5,270 314,267 317.5,263.2 L321.5,258" fill="none" stroke="#111" stroke-width="2.8" stroke-linecap="round"/>
<path d="M308.6,258.6 L322.8,256.2 L318.4,269.6" fill="none" stroke="#111" stroke-width="3" stroke-linejoin="round" stroke-linecap="butt"/>
<path d="M135.0,442.6 L188.0,380.8 L193.3,385.3 L198.0,363.0 L176.6,371.0 L181.9,375.6 L129.0,437.4Z" fill="#C5461B"/>
<path d="M132.3,443.0 L172.1,438.6 L173.0,446.6 L188.7,433.8 L170.6,424.7 L171.5,432.7 L131.7,437.0Z" fill="#E98C1C"/>
<path d="M133.0,436.8 L113.3,437.0 L113.1,428.8 L97.3,440.5 L113.5,451.8 L113.3,443.5 L133.0,443.2Z" fill="#11A3D9"/>
<path d="M129.2,443.6 L217.5,486.9 L214.0,494.1 L239.0,493.0 L224.5,472.5 L221.0,479.7 L132.8,436.4Z" fill="#5C3A67"/>
<text x="208" y="378.2" font-size="16.5" font-weight="bold" font-style="italic" fill="#C5461B" textLength="141" lengthAdjust="spacing">Amph 50% frac.</text>
<text x="195" y="439.2" font-size="16.5" font-weight="bold" font-style="italic" fill="#E98C1C" textLength="122" lengthAdjust="spacing">Cpx 50% frac.</text>
<text x="246.6" y="492.6" font-size="16.5" font-weight="bold" font-style="italic" fill="#5C3A67" textLength="116" lengthAdjust="spacing">Grt 20% frac.</text>
<text x="65.2" y="415.7" font-size="17.5" font-weight="bold" font-style="italic" fill="#11A3D9" textLength="58" lengthAdjust="spacing">Pl 50%</text>
<text x="65.2" y="431.3" font-size="17.5" font-weight="bold" font-style="italic" fill="#11A3D9" textLength="41" lengthAdjust="spacing">frac.</text>
</svg>
</body></html>
